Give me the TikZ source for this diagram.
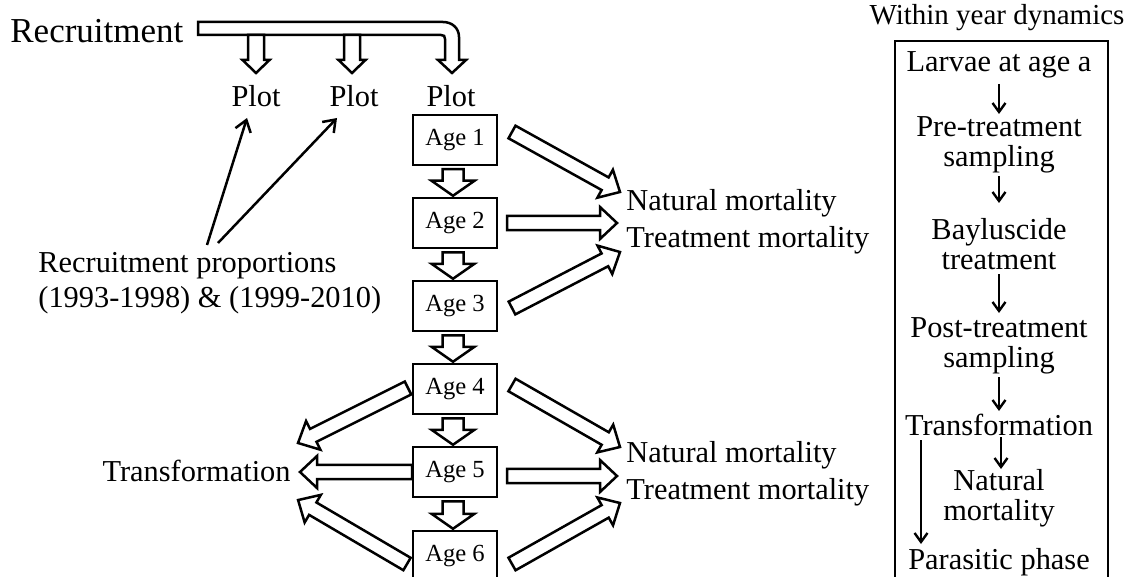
\documentclass[tikz,border=0pt]{standalone}
\usepackage{fontspec}
\setmainfont{Liberation Serif}
\usetikzlibrary{arrows.meta,calc}
\makeatletter
% block arrow from coordinate #1 to coordinate #2; #3 shaft half width, #4 head half width, #5 head length
\newcommand\fatarrow[5]{%
  \pgfpointdiff{\pgfpointanchor{#1}{center}}{\pgfpointanchor{#2}{center}}%
  \pgf@xa=\pgf@x \pgf@ya=\pgf@y
  \pgfmathveclen{\the\pgf@xa}{\the\pgf@ya}\let\FAlen\pgfmathresult
  \pgfmathatantwo{\the\pgf@ya}{\the\pgf@xa}\let\FAang\pgfmathresult
  \draw[fat, shift={(#1)}, rotate=\FAang]
    (0pt,#3) -- ({\FAlen pt-#5},#3) -- ({\FAlen pt-#5},#4) -- (\FAlen pt,0pt)
    -- ({\FAlen pt-#5},-#4) -- ({\FAlen pt-#5},-#3) -- (0pt,-#3) -- cycle;
}
\makeatother
\begin{document}
\begin{tikzpicture}[x=0.5pt,y=-0.5pt,
  fat/.style={draw, line width=1.25pt, fill=white, line join=miter},
  agebox/.style={draw, line width=1.25pt, minimum width=42pt, minimum height=25pt, inner sep=0pt, font=\fontsize{12.3}{14}\selectfont},
  lbl/.style={inner sep=0pt, font=\fontsize{15.2}{17.8}\selectfont},
  boxtxt/.style={inner sep=0pt, align=center, font=\fontsize{15.2}{14.8}\selectfont},
  thinarrow/.style={line width=1.25pt, -{Straight Barb[length=5.5pt,width=8pt]}},
  smallarrow/.style={line width=1.2pt, -{Straight Barb[length=4.5pt,width=6.5pt]}},
]
\useasboundingbox (0,0) rectangle (1128,577);
\clip (0,0) rectangle (1128,577);

% Recruitment
\node[lbl, font=\fontsize{17.5}{20}\selectfont, anchor=west] (rec) at (10,31) {Recruitment};
\draw[fat] (198,22) -- (443,22) .. controls (452,22) and (459,28) .. (459,37) -- (459,60) -- (466,60)
  -- (452,73) -- (438,60) -- (445,60) -- (445,39) .. controls (445,36) and (444,35) .. (441,35)
  -- (198,35) -- cycle;

\node[lbl] (plot1) at (256,96) {Plot};
\node[lbl] (plot2) at (354,96) {Plot};
\node[lbl] (plot3) at (451,96) {Plot};

\coordinate (b1s) at (256,35); \coordinate (b1e) at (256,73);
\coordinate (b2s) at (352,35); \coordinate (b2e) at (352,73);
\fatarrow{b1s}{b1e}{4pt}{6.75pt}{6.5pt}
\fatarrow{b2s}{b2e}{4pt}{6.75pt}{6.5pt}

% Recruitment proportions
\node[lbl, align=left, anchor=west] (rp) at (38,283) {Recruitment proportions\\(1993-1998) \& (1999-2010)};
\coordinate (rpa) at (207,245); \coordinate (rpb) at (218,243);
\coordinate (p1in) at (247,118); \coordinate (p2in) at (337,118);
\draw[thinarrow] (rpa) -- (p1in);
\draw[thinarrow] (rpb) -- (p2in);

% Age boxes
\foreach \i/\y in {1/140,2/223,3/306,4/389,5/472,6/556}
  \node[agebox] (age\i) at (455,\y) {Age \i};

% down arrows
\foreach \i/\j in {1/2,2/3,3/4,4/5,5/6}{
  \coordinate (d\i s) at ($(age\i.south)+(-2,3)$);
  \coordinate (d\i e) at ($(age\j.north)+(-2,-1)$);
  \fatarrow{d\i s}{d\i e}{5.25pt}{10.75pt}{7.5pt}
}

% right arrows to mortality
\coordinate (r1s) at (512,132); \coordinate (r1e) at (620,192);
\coordinate (r2s) at (507,223); \coordinate (r2e) at (617,223);
\coordinate (r3s) at (512,308); \coordinate (r3e) at (620,252);
\coordinate (r4s) at (512,385); \coordinate (r4e) at (620,447);
\coordinate (r5s) at (507,476); \coordinate (r5e) at (617,476);
\coordinate (r6s) at (512,564); \coordinate (r6e) at (620,503);
\foreach \k in {1,...,6}{\fatarrow{r\k s}{r\k e}{3.6pt}{8pt}{8.5pt}}

% left arrows to transformation
\coordinate (l4s) at (408,388); \coordinate (l4e) at (298,443);
\coordinate (l5s) at (412,472); \coordinate (l5e) at (300,472);
\coordinate (l6s) at (407,564); \coordinate (l6e) at (298,500);
\foreach \k in {4,5,6}{\fatarrow{l\k s}{l\k e}{3.6pt}{8pt}{8.5pt}}

\node[lbl, align=left, anchor=west, font=\fontsize{15.2}{18.5}\selectfont] (mort1) at (626,222) {Natural mortality\\Treatment mortality};
\node[lbl, align=left, anchor=west, font=\fontsize{15.2}{18.5}\selectfont] (mort2) at (626,474) {Natural mortality\\Treatment mortality};
\node[lbl, anchor=east] (trans) at (291,471) {Transformation};

% Within year dynamics panel
\node[lbl, font=\fontsize{14.5}{17}\selectfont] (wyd) at (997,18) {Within year dynamics};
\draw[line width=1.1pt] (895,41) rectangle (1108,620);
\node[boxtxt] (w1) at (999,65) {Larvae at age a};
\node[boxtxt] (w2) at (999,145) {Pre-treatment\\sampling};
\node[boxtxt] (w3) at (999,244) {Bayluscide\\treatment};
\node[boxtxt] (w4) at (999,346) {Post-treatment\\sampling};
\node[boxtxt] (w5) at (999,425) {Transformation};
\node[boxtxt] (w6) at (999,498) {Natural\\mortality};
\node[boxtxt] (w7) at (999,562) {Parasitic phase};
\coordinate (a1s) at (999,84);  \coordinate (a1e) at (999,114);
\coordinate (a2s) at (999,176); \coordinate (a2e) at (999,203);
\coordinate (a3s) at (999,274); \coordinate (a3e) at (999,313);
\coordinate (a4s) at (999,377); \coordinate (a4e) at (999,411);
\coordinate (a5s) at (1001,437); \coordinate (a5e) at (1001,469);
\coordinate (a6s) at (921,440); \coordinate (a6e) at (921,544);
\foreach \k in {1,...,6}{\draw[smallarrow] (a\k s) -- (a\k e);}
\end{tikzpicture}
\end{document}
